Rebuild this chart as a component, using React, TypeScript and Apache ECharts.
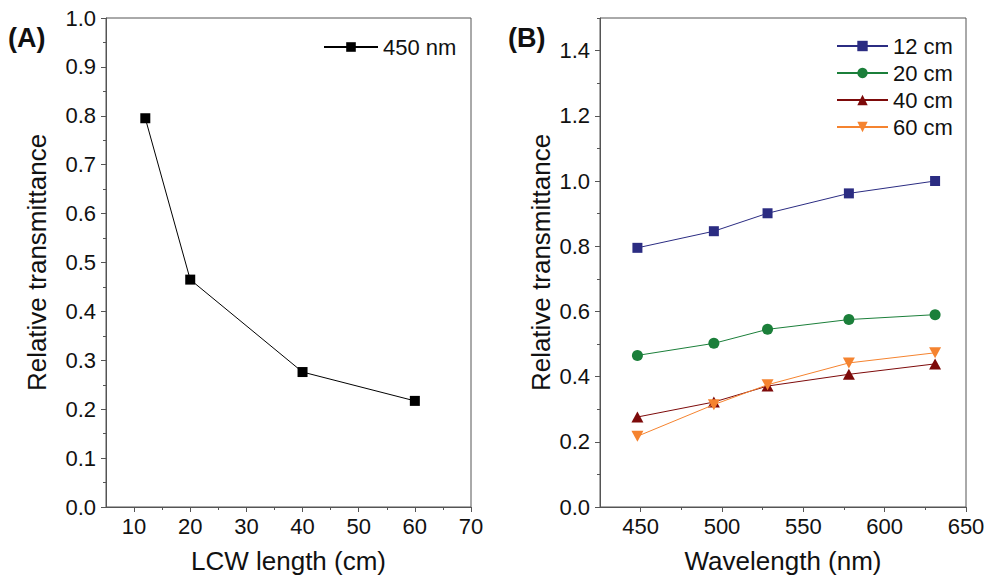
import React, { useEffect, useRef } from "react";
import * as echarts from "echarts";

// Panel A: relative transmittance at 450 nm vs LCW length
const lengthsCm = [12, 20, 40, 60];
const trans450 = [0.795, 0.465, 0.276, 0.217];

// Panel B: relative transmittance vs wavelength for each LCW length
const wavelengthsNm = [448, 495, 528, 578, 631];
const t12 = [0.795, 0.846, 0.901, 0.962, 1.0];
const t20 = [0.465, 0.502, 0.545, 0.575, 0.59];
const t40 = [0.276, 0.322, 0.371, 0.407, 0.439];
const t60 = [0.217, 0.314, 0.375, 0.442, 0.473];
const seriesNamesB = ["12 cm", "20 cm", "40 cm", "60 cm"];
const seriesB = [t12, t20, t40, t60];

// tick labels
const xTicksA = [10, 20, 30, 40, 50, 60, 70];
const xMinorA = [15, 25, 35, 45, 55, 65];
const xTicksB = [450, 500, 550, 600, 650];
const xMinorB = [475, 525, 575, 625];
const yTicksB = [0, 0.2, 0.4, 0.6, 0.8, 1.0, 1.2, 1.4];
const yMinorB = [0.1, 0.3, 0.5, 0.7, 0.9, 1.1, 1.3, 1.5];

const colorsB = ["#2B2C82", "#1B7F3A", "#7D0A0A", "#F5832F"];
const symbolsB = ["rect", "circle", "triangle", "path://M0,0L10,0L5,9Z"];
const symbolSizesB: any[] = [10, 11, [12, 11], [12, 11]];

export default function App() {
  const ref = useRef<HTMLDivElement>(null);
  useEffect(() => {
    document.body.style.margin = "0";
    const chart = echarts.init(ref.current!, null, { renderer: "svg" });
    const font = "'Liberation Sans', Arial, sans-serif";
    const axisColor = "#555";
    const labelStyle = { fontFamily: font, fontSize: 22, color: "#111" };
    const nameStyle = { fontFamily: font, fontSize: 26, color: "#111" };

    const mainX = (gridIndex: number, min: number, max: number, ticks: number[], name: string) => ({
      type: "value",
      gridIndex,
      position: "bottom",
      min,
      max,
      name,
      nameLocation: "middle",
      nameGap: 41,
      nameTextStyle: nameStyle,
      axisLine: { show: true, lineStyle: { color: axisColor, width: 1 } },
      axisTick: { show: true, length: 5, lineStyle: { color: axisColor }, customValues: ticks },
      axisLabel: { ...labelStyle, margin: 8, customValues: ticks, formatter: (v: number) => String(v) },
      splitLine: { show: false },
    });
    const minorX = (gridIndex: number, min: number, max: number, ticks: number[]) => ({
      type: "value",
      gridIndex,
      position: "bottom",
      min,
      max,
      axisLine: { show: false },
      axisTick: { show: true, length: 3, lineStyle: { color: axisColor }, customValues: ticks },
      axisLabel: { show: false },
      splitLine: { show: false },
    });

    const gridCommon = {
      top: 18,
      height: 489,
      show: true,
      borderColor: axisColor,
      borderWidth: 1,
      backgroundColor: "transparent",
      containLabel: false,
      outerBoundsMode: "none",
    };

    chart.setOption({
      animation: false,
      backgroundColor: "#fff",
      grid: [
        { ...gridCommon, left: 106, width: 365 },
        { ...gridCommon, left: 600, width: 366 },
      ],
      xAxis: [
        mainX(0, 5, 70, xTicksA, "LCW length (cm)"),
        minorX(0, 5, 70, xMinorA),
        mainX(1, 425, 650, xTicksB, "Wavelength (nm)"),
        minorX(1, 425, 650, xMinorB),
      ],
      yAxis: [
        {
          type: "value",
          gridIndex: 0,
          position: "left",
          min: 0,
          max: 1,
          interval: 0.1,
          name: "Relative transmittance",
          nameLocation: "middle",
          nameGap: 56,
          nameTextStyle: nameStyle,
          axisLine: { show: true, lineStyle: { color: axisColor, width: 1 } },
          axisTick: { show: true, length: 5, lineStyle: { color: axisColor } },
          minorTick: { show: true, splitNumber: 2, length: 3, lineStyle: { color: axisColor } },
          axisLabel: { ...labelStyle, margin: 10, formatter: (v: number) => v.toFixed(1) },
          splitLine: { show: false },
          minorSplitLine: { show: false },
        },
        {
          type: "value",
          gridIndex: 1,
          position: "left",
          min: 0,
          max: 1.5,
          name: "Relative transmittance",
          nameLocation: "middle",
          nameGap: 46,
          nameTextStyle: nameStyle,
          axisLine: { show: true, lineStyle: { color: axisColor, width: 1 } },
          axisTick: { show: true, length: 5, lineStyle: { color: axisColor }, customValues: yTicksB },
          axisLabel: { ...labelStyle, margin: 10, customValues: yTicksB, formatter: (v: number) => v.toFixed(1) },
          splitLine: { show: false },
        },
        {
          type: "value",
          gridIndex: 1,
          position: "left",
          offset: 0,
          min: 0,
          max: 1.5,
          axisLine: { show: false },
          axisTick: { show: true, length: 3, lineStyle: { color: axisColor }, customValues: yMinorB },
          axisLabel: { show: false },
          splitLine: { show: false },
        },
      ],
      legend: [
        {
          data: ["450 nm"],
          left: 323,
          top: 36,
          padding: 0,
          itemWidth: 54,
          itemHeight: 12,
          textStyle: { fontFamily: font, fontSize: 22, color: "#111" },
        },
        {
          data: seriesNamesB,
          orient: "vertical",
          left: 836,
          top: 35,
          padding: 0,
          itemWidth: 51,
          itemHeight: 13,
          itemGap: 5,
          textStyle: { fontFamily: font, fontSize: 22, color: "#111" },
        },
      ],
      graphic: [
        { type: "text", left: 8, top: 24, style: { text: "(A)", font: `bold 27px ${font}`, fill: "#111" } },
        { type: "text", left: 508, top: 24, style: { text: "(B)", font: `bold 27px ${font}`, fill: "#111" } },
      ],
      series: [
        {
          name: "450 nm",
          type: "line",
          xAxisIndex: 0,
          yAxisIndex: 0,
          data: lengthsCm.map((x, i) => [x, trans450[i]]),
          symbol: "rect",
          symbolSize: 10,
          itemStyle: { color: "#000" },
          lineStyle: { color: "#000", width: 1 },
        },
        ...seriesB.map((vals, k) => ({
          name: seriesNamesB[k],
          type: "line",
          xAxisIndex: 2,
          yAxisIndex: 1,
          data: wavelengthsNm.map((x, i) => [x, vals[i]]),
          symbol: symbolsB[k],
          symbolSize: symbolSizesB[k],
          itemStyle: { color: colorsB[k] },
          lineStyle: { color: colorsB[k], width: 1 },
          z: 2 + k,
        })),
      ],
    });
    return () => chart.dispose();
  }, []);
  return <div ref={ref} style={{ position: "absolute", left: 0, top: 0, width: 988, height: 578 }} />;
}
